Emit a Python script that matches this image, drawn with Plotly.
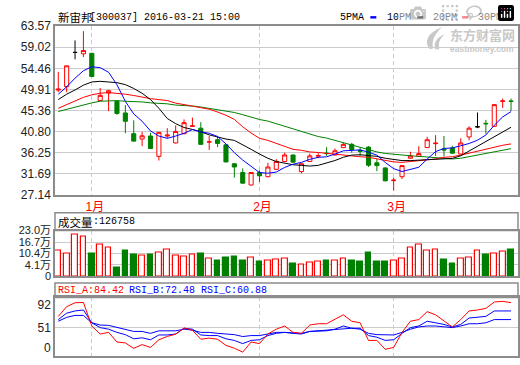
import plotly.graph_objects as go

# ---------------- data ----------------
dates = ["2015-12-28", "2015-12-29", "2015-12-30", "2015-12-31",
         "2016-01-04", "2016-01-05", "2016-01-06", "2016-01-07", "2016-01-08",
         "2016-01-11", "2016-01-12", "2016-01-13", "2016-01-14", "2016-01-15",
         "2016-01-18", "2016-01-19", "2016-01-20", "2016-01-21", "2016-01-22",
         "2016-01-25", "2016-01-26", "2016-01-27", "2016-01-28", "2016-01-29",
         "2016-02-01", "2016-02-02", "2016-02-03", "2016-02-04", "2016-02-05",
         "2016-02-15", "2016-02-16", "2016-02-17", "2016-02-18", "2016-02-19",
         "2016-02-22", "2016-02-23", "2016-02-24", "2016-02-25", "2016-02-26",
         "2016-02-29",
         "2016-03-01", "2016-03-02", "2016-03-03", "2016-03-04",
         "2016-03-07", "2016-03-08", "2016-03-09", "2016-03-10", "2016-03-11",
         "2016-03-14", "2016-03-15", "2016-03-16", "2016-03-17", "2016-03-18",
         "2016-03-21"]

open_ = [49.75, 50.5, 57.9, 57.6, 57.7, 47.5, 49.1, 47.3, 44.8, 40.3,
         39.15, 39.8, 35.4, 39.8, 38.3, 40.3, 41.9, 41.5, 38.5, 39.0,
         37.9, 33.8, 31.9, 29.2, 31.9, 31.0, 32.6, 34.3, 35.7, 32.1,
         34.3, 35.45, 36.1, 35.7, 37.3, 38.0, 36.7, 37.4, 34.0, 32.9,
         30.15, 31.0, 35.0, 35.4, 37.3, 38.15, 37.0, 37.2, 35.9, 39.6,
         41.8, 42.55, 41.9, 47.3, 47.4]
high = [53.7, 55.0, 60.5, 62.5, 57.8, 50.2, 49.8, 47.4, 46.5, 43.2,
        40.7, 40.5, 40.7, 41.5, 42.1, 43.4, 43.8, 42.8, 39.8, 39.6,
        38.0, 33.9, 32.8, 32.0, 32.4, 34.0, 34.8, 36.2, 35.75, 33.9,
        36.0, 36.1, 37.4, 37.1, 38.3, 38.3, 37.4, 37.6, 34.8, 33.0,
        30.8, 33.5, 36.4, 37.6, 39.6, 40.0, 39.8, 37.7, 39.3, 41.9,
        44.9, 43.3, 46.7, 47.9, 47.9]
low = [49.3, 49.3, 56.4, 56.9, 52.6, 47.4, 45.2, 44.4, 40.4, 38.6,
       37.6, 37.0, 34.5, 39.3, 38.2, 40.2, 41.8, 37.9, 36.8, 37.4,
       34.1, 30.8, 29.5, 29.1, 29.85, 30.9, 32.5, 34.2, 34.1, 31.7,
       34.2, 35.0, 35.5, 35.6, 37.2, 36.2, 35.5, 33.1, 32.2, 30.0,
       28.0, 30.5, 34.9, 35.3, 37.2, 35.5, 35.4, 36.0, 35.8, 38.9,
       41.5, 40.3, 41.8, 45.9, 45.2]
close = [49.95, 55.0, 57.9, 58.3, 52.7, 48.6, 49.6, 44.7, 43.0, 38.7,
         39.85, 37.1, 40.6, 40.0, 40.8, 42.7, 42.0, 38.0, 38.55, 38.2,
         34.2, 33.1, 29.6, 31.9, 31.2, 33.1, 34.3, 35.7, 34.15, 33.8,
         35.5, 35.55, 36.0, 36.6, 38.0, 36.9, 36.5, 33.5, 33.4, 30.1,
         30.25, 33.4, 35.5, 36.0, 39.0, 38.25, 36.8, 36.1, 38.3, 41.5,
         41.8, 42.45, 46.6, 47.4, 47.3]

# volume in 万股 (read against the axis labels)
volume = [11.9, 10.1, 20.9, 19.8, 10.1, 15.5, 13.4, 2.75, 11.9, 9.6,
          9.05, 9.6, 10.8, 12.8, 9.05, 8.7, 9.6, 10.3, 7.4, 6.5,
          8.1, 8.7, 6.5, 8.0, 6.0, 6.5, 6.9, 7.4, 4.7, 4.2,
          5.4, 6.0, 6.5, 6.5, 7.4, 6.5, 6.0, 10.8, 6.0, 6.0,
          6.5, 7.4, 13.4, 15.5, 11.9, 12.3, 7.2, 4.7, 7.4, 8.1,
          11.9, 9.6, 10.1, 11.4, 12.68]

ma5 = [48.85, 50.45, 52.33, 53.93, 54.8, 54.6, 53.6, 50.9, 47.3, 44.6,
       43.0, 40.9, 39.8, 39.3, 39.8, 40.4, 41.2, 40.7, 40.4, 39.7,
       38.1, 36.2, 34.6, 33.3, 31.9, 31.75, 32.0, 33.0, 33.7, 34.1,
       34.75, 35.2, 35.3, 35.9, 36.6, 36.7, 36.8, 36.3, 35.66, 34.08,
       32.74, 32.12, 32.52, 33.04, 34.82, 36.43, 37.11, 37.23, 37.69, 38.19,
       38.9, 40.03, 42.13, 43.94, 45.1]
ma10 = [47.69, 48.85, 49.77, 50.81, 51.5, 51.64, 51.5, 51.35, 50.93, 50.1,
        49.06, 47.69, 45.81, 43.6, 42.48, 41.65, 41.23, 40.73, 40.05, 39.57,
        39.15, 38.86, 37.96, 36.92, 35.9, 34.99, 34.28, 33.97, 33.59, 33.45,
        33.3, 33.45, 33.95, 34.5, 35.2, 35.67, 35.75, 35.53, 35.4, 34.99,
        34.7, 34.49, 34.49, 34.6, 34.6, 34.84, 34.84, 34.95, 35.53, 36.55,
        37.6, 38.65, 39.69, 40.73, 41.7]
ma20 = [45.81, 46.65, 47.48, 48.17, 48.73, 49.06, 49.21, 49.06, 48.85, 48.58,
        48.17, 47.89, 47.69, 47.48, 46.92, 46.65, 46.29, 45.94, 45.61, 45.0,
        44.3, 43.4, 41.8, 40.45, 39.3, 38.86, 38.17, 37.49, 36.92, 36.71,
        36.36, 36.24, 36.03, 35.88, 35.67, 35.53, 35.32, 35.2, 34.84, 34.4,
        34.2, 34.1, 34.28, 34.49, 34.7, 34.84, 35.2, 35.32, 35.67, 36.09,
        36.57, 37.07, 37.49, 37.8, 38.1]
ma30 = [45.11, 45.61, 46.08, 46.5, 46.98, 47.33, 47.48, 47.48, 47.33, 47.33,
        47.18, 46.98, 46.92, 46.77, 46.5, 46.43, 46.29, 46.08, 45.81, 45.52,
        45.25, 44.9, 44.42, 43.86, 43.38, 43.03, 42.48, 41.92, 41.23, 40.73,
        40.26, 39.69, 39.36, 38.86, 38.32, 37.76, 37.28, 36.78, 36.36, 36.03,
        35.82, 35.67, 35.53, 35.4, 35.26, 35.2, 34.99, 34.84, 34.99, 35.32,
        35.67, 36.03, 36.36, 36.71, 37.07]

rsi_a = [70.6, 88, 95, 95.5, 53.5, 39.3, 42.2, 25.1, 23.4, 13.7,
         20.5, 15.4, 29, 35, 39, 50, 46, 30, 32, 30,
         19, 14, 7, 25, 22.2, 39.3, 47.9, 53.6, 42.2, 40.5,
         55.3, 57.6, 57.6, 65, 73.5, 62.1, 59.3, 27.9, 27.9, 12,
         15.4, 42.2, 62.1, 65, 79.2, 73.5, 62.1, 51.9, 65, 80.4,
         82.1, 85, 96.3, 97.5, 95.2]
rsi_b = [65, 76.4, 80.4, 82.1, 59.3, 50.7, 47.9, 42.2, 38.2, 30.8,
         32.5, 29.1, 37.6, 37.6, 39.3, 49.6, 47.9, 37.6, 36.5, 36.5,
         30.8, 27.9, 22.2, 27.9, 29.1, 36.5, 40.5, 42.2, 40.5, 39.3,
         43.9, 45, 45, 47.9, 53.6, 49.6, 49.6, 36.5, 33.6, 27.9,
         29.1, 40.5, 50.7, 53.6, 62.1, 59.3, 56.4, 51.9, 56.4, 67.8,
         69, 70.7, 80.4, 80.4, 80.4]
rsi_c = [62.1, 69, 72.4, 72.4, 59.3, 55.3, 54.7, 50.7, 47.9, 43.9,
         43.9, 40.5, 45, 45, 45, 47.9, 46.2, 42.2, 42.2, 40.5,
         39.3, 38.2, 34.8, 36.5, 36.5, 39.3, 42.2, 42.2, 41.6, 40.5,
         43.9, 45, 46.2, 47.9, 49.6, 49.6, 47.9, 40.5, 38.2, 37.6,
         37.6, 42.2, 47.9, 51.9, 53.6, 53.6, 51.9, 50.7, 53.6, 57.6,
         57.6, 59.3, 65, 65, 65]

price_ticks = [27.14, 31.69, 36.25, 40.80, 45.36, 49.91, 54.46, 59.02, 63.57]
vol_floor = -2.1                      # the panel's bottom edge, labelled "0" in the source
vol_ticks = [vol_floor, 4.1, 10.4, 16.7, 23.0]
vol_tick_text = ["0", "4.1万", "10.4万", "16.7万", "23.0万"]
rsi_ticks = [51, 92]
rsi_grid = [51]
month_ticks = ["2016-01-04", "2016-02-01", "2016-03-01"]
month_labels = ["1月", "2月", "3月"]

stock_title = "新宙邦"
stock_info = "[300037] 2016-03-21 15:00"
last_volume = "126758"
rsi_header = [("RSI_A:84.42", "#ff0000"), ("RSI_B:72.48", "#0000ff"), ("RSI_C:60.88", "#0000ff")]
legend_items = [("5PMA", "#0000ff"), ("10PM", "#000000"), ("20PM", "#ff0000"), ("30PM", "#008000")]

# ---------------- styling ----------------
W, H = 520, 365
LEFT, RIGHT = 55, 519
RED, GREEN, BLUE = "#ff0000", "#008000", "#0000ff"
FRAME = "#8c8c8c"
GRID = "#cccccc"
WM = "#c8c8c8"
MONO = "Liberation Mono, Noto Sans CJK SC"
SANS = "Liberation Sans, Noto Sans CJK SC"
CJK = "Noto Sans CJK SC"


def px(x):
    return (x - LEFT) / (RIGHT - LEFT)


def py(y):
    return (H - y) / H


is_black = [o == c for o, c in zip(open_, close)]
is_up = [c >= o for o, c in zip(open_, close)]

fig = go.Figure()

# candles (red / green)
fig.add_trace(go.Candlestick(
    x=dates,
    open=[None if b else v for v, b in zip(open_, is_black)],
    high=[None if b else v for v, b in zip(high, is_black)],
    low=[None if b else v for v, b in zip(low, is_black)],
    close=[None if b else v for v, b in zip(close, is_black)],
    increasing=dict(line=dict(color=RED, width=1), fillcolor="white"),
    decreasing=dict(line=dict(color=GREEN, width=1), fillcolor=GREEN),
    whiskerwidth=0, xaxis="x", yaxis="y", showlegend=False, hoverinfo="skip"))
# doji candles (black)
fig.add_trace(go.Candlestick(
    x=dates,
    open=[v if b else None for v, b in zip(open_, is_black)],
    high=[v if b else None for v, b in zip(high, is_black)],
    low=[v if b else None for v, b in zip(low, is_black)],
    close=[v if b else None for v, b in zip(close, is_black)],
    increasing=dict(line=dict(color="black", width=1), fillcolor="black"),
    decreasing=dict(line=dict(color="black", width=1), fillcolor="black"),
    whiskerwidth=0, xaxis="x", yaxis="y", showlegend=False, hoverinfo="skip"))

for ma, col in [(ma30, GREEN), (ma20, RED), (ma10, "black"), (ma5, BLUE)]:
    fig.add_trace(go.Scatter(x=dates, y=ma, mode="lines", line=dict(color=col, width=1),
                             xaxis="x", yaxis="y", showlegend=False, hoverinfo="skip"))

# volume: bars rise from the panel floor up to the volume value
fig.add_trace(go.Bar(
    x=dates, y=[v - vol_floor for v in volume], base=vol_floor, width=0.68,
    marker=dict(color=["white" if u else GREEN for u in is_up],
                line=dict(color=[RED if u else GREEN for u in is_up], width=1.2)),
    xaxis="x2", yaxis="y2", showlegend=False, hoverinfo="skip"))

# RSI
for r, col in [(rsi_c, BLUE), (rsi_b, BLUE), (rsi_a, RED)]:
    fig.add_trace(go.Scatter(x=dates, y=r, mode="lines", line=dict(color=col, width=1),
                             xaxis="x3", yaxis="y3", showlegend=False, hoverinfo="skip"))

xcommon = dict(type="category", range=[-0.39, 54.83], tickmode="array", tickvals=month_ticks,
               showgrid=True, gridcolor=GRID, griddash="4px,3px", gridwidth=1,
               showline=True, mirror=True, linecolor=FRAME, linewidth=1.5,
               ticks="", zeroline=False, fixedrange=True)
ycommon = dict(showline=True, mirror=True, linecolor=FRAME, linewidth=1.5, ticks="",
               zeroline=False, tickfont=dict(family=SANS, size=12, color="#222222"),
               gridcolor=GRID, gridwidth=1, fixedrange=True)

fig.update_layout(
    width=W, height=H,
    margin=dict(l=LEFT, r=W - RIGHT, t=0, b=0),
    paper_bgcolor="white", plot_bgcolor="white",
    showlegend=False,
    xaxis=dict(xcommon, anchor="y", domain=[0, 1], ticktext=month_labels, showticklabels=True,
               tickfont=dict(family=SANS, size=12, color=RED), rangeslider=dict(visible=False),
               ticklabelshift=3),
    xaxis2=dict(xcommon, anchor="y2", domain=[0, 1], matches="x", showticklabels=False),
    xaxis3=dict(xcommon, anchor="y3", domain=[0, 1], matches="x", showticklabels=False),
    yaxis=dict(ycommon, anchor="x", domain=[py(195), py(20)], range=[27.14, 63.57],
               tickmode="array", tickvals=price_ticks, tickformat=".2f", showgrid=True),
    yaxis2=dict(ycommon, anchor="x2", domain=[py(280), py(232.5)], range=[vol_floor, 23.0],
                tickmode="array", tickvals=vol_ticks, ticktext=vol_tick_text, showgrid=True,
                tickfont=dict(family="Liberation Sans, Noto Sans CJK SC", size=11, color="#222222")),
    yaxis3=dict(ycommon, anchor="x3", domain=[py(363), py(302)], range=[0, 104.5],
                tickmode="array", tickvals=rsi_ticks, showgrid=False,
                minor=dict(tickmode="array", tickvals=rsi_grid, showgrid=True,
                           gridcolor=GRID, gridwidth=1, ticks="")),
    bargap=0,
)

shapes = []
# header boxes for volume and RSI panels
shapes.append(dict(type="rect", xref="paper", yref="paper", x0=0, x1=1, y0=py(232.5), y1=py(214),
                   line=dict(color=FRAME, width=1.5), layer="above"))
shapes.append(dict(type="rect", xref="paper", yref="paper", x0=0, x1=1, y0=py(302), y1=py(287),
                   line=dict(color=FRAME, width=1.5), layer="above"))


# watermark logo swoosh (decorative)
def pth(points):
    s = "M {:.5f},{:.5f}".format(px(points[0][0]), py(points[0][1]))
    i = 1
    while i < len(points):
        (a, b), (c, d), (e, f) = points[i], points[i + 1], points[i + 2]
        s += " C {:.5f},{:.5f} {:.5f},{:.5f} {:.5f},{:.5f}".format(px(a), py(b), px(c), py(d), px(e), py(f))
        i += 3
    return s + " Z"


shapes.append(dict(type="path", xref="paper", yref="paper", layer="below",
                   path=pth([(431, 44), (424, 36), (429, 26), (443, 21), (435, 28), (432, 36), (434, 43)]),
                   fillcolor=WM, line=dict(width=0)))
shapes.append(dict(type="path", xref="paper", yref="paper", layer="below",
                   path=pth([(436, 44), (434, 37), (438, 31), (446, 28), (440, 33), (439, 38), (440, 44)]),
                   fillcolor=WM, line=dict(width=0)))

annotations = []
annotations.append(dict(text=stock_title, x=px(56), y=py(10.5), xref="paper", yref="paper",
                        xanchor="left", yanchor="middle", showarrow=False,
                        font=dict(family=CJK, size=11.5, color="black")))
annotations.append(dict(text=stock_info, x=px(88), y=py(10.5), xref="paper", yref="paper",
                        xanchor="left", yanchor="middle", showarrow=False,
                        font=dict(family=MONO, size=10, color="black")))

# legend
leg_text_x = [339, 386, 432, 477]
leg_mark_x = [371, 418, 463, 509]
for (name, col), tx, mx in zip(legend_items, leg_text_x, leg_mark_x):
    annotations.append(dict(text=name, x=px(tx), y=py(10.5), xref="paper", yref="paper",
                            xanchor="left", yanchor="middle", showarrow=False,
                            font=dict(family=MONO, size=10, color="black")))
    shapes.append(dict(type="rect", xref="paper", yref="paper", x0=px(mx), x1=px(mx + 6),
                       y0=py(12), y1=py(9.5), line=dict(width=0), fillcolor=col))

# watermark text
annotations.append(dict(text="<b>东方财富网</b>", x=px(483), y=py(29), xref="paper", yref="paper",
                        xanchor="center", yanchor="middle", showarrow=False, borderpad=0,
                        font=dict(family=CJK, size=13, color=WM)))
annotations.append(dict(text="<b>eastmoney.com</b>", x=px(483), y=py(43.5), xref="paper", yref="paper",
                        xanchor="center", yanchor="middle", showarrow=False, borderpad=0,
                        font=dict(family="Liberation Sans", size=8.5, color=WM)))

# volume header
annotations.append(dict(text="成交量", x=px(56), y=py(223.5), xref="paper", yref="paper",
                        xanchor="left", yanchor="middle", showarrow=False,
                        font=dict(family=CJK, size=11.5, color="black")))
annotations.append(dict(text=":" + last_volume, x=px(91), y=py(223.5), xref="paper", yref="paper",
                        xanchor="left", yanchor="middle", showarrow=False,
                        font=dict(family=MONO, size=10, color="black")))

# RSI header
for (txt, col), tx in zip(rsi_header, [56, 127, 199]):
    annotations.append(dict(text=txt, x=px(tx), y=py(294.5), xref="paper", yref="paper",
                            xanchor="left", yanchor="middle", showarrow=False,
                            font=dict(family=MONO, size=10, color=col)))
# RSI zero label (drawn slightly above the bottom edge, as in the source)
annotations.append(dict(text="0", x=px(53), y=py(355), xref="paper", yref="paper",
                        xanchor="right", yanchor="middle", showarrow=False,
                        font=dict(family=SANS, size=12, color="#222222")))

fig.update_layout(shapes=shapes, annotations=annotations)

fig.write_html("out.html",
               post_script="document.body.style.margin='0';document.body.style.padding='0';")
